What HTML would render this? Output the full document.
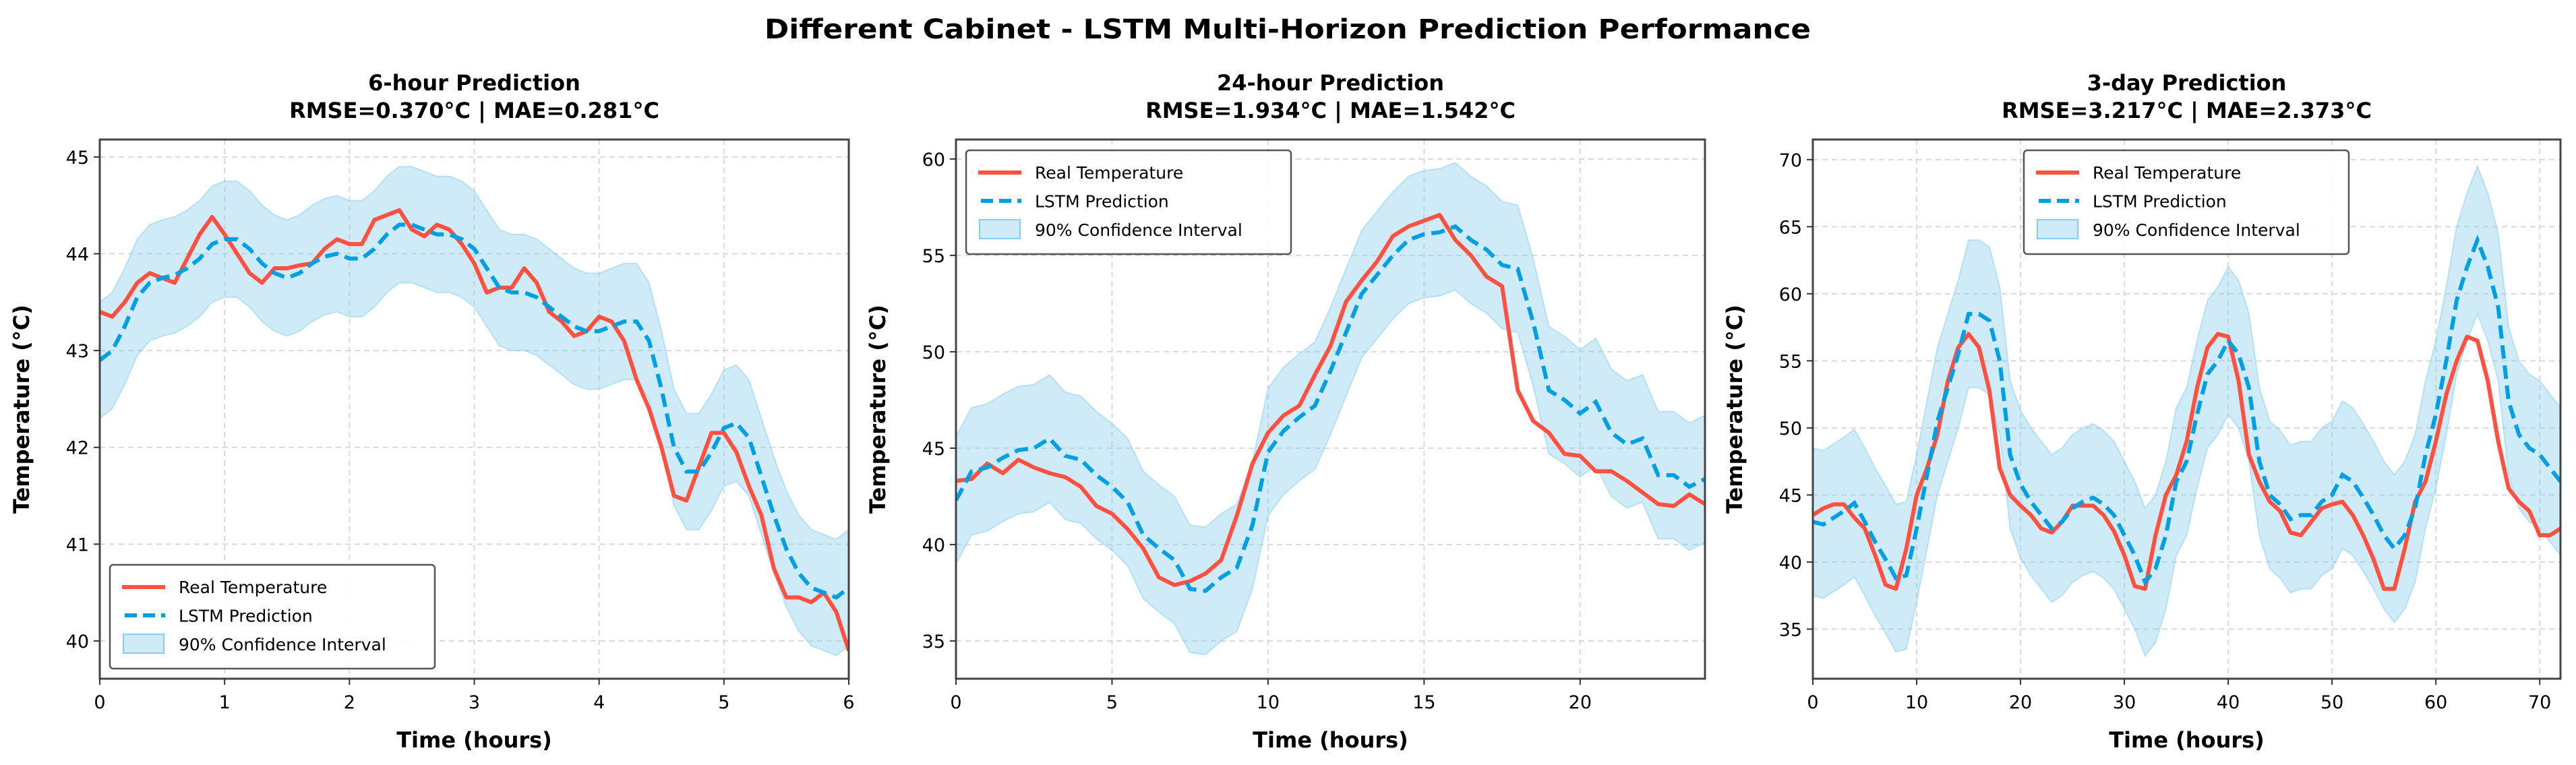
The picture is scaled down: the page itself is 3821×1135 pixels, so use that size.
<!DOCTYPE html>
<html><head><meta charset="utf-8"><title>LSTM Multi-Horizon Prediction</title>
<style>
html,body{margin:0;padding:0;background:#fff;}
svg{display:block;font-family:"DejaVu Sans","Liberation Sans",sans-serif;}
</style></head>
<body>
<svg id="fig" width="3821" height="1135" viewBox="0 0 3821 1135" xmlns="http://www.w3.org/2000/svg">
<text x="1910" y="57" text-anchor="middle" font-size="40" font-weight="bold" textLength="1552" lengthAdjust="spacingAndGlyphs">Different Cabinet - LSTM Multi-Horizon Prediction Performance</text>
</svg>
<script>
// Panel 1: 6-hour (step 0.1 h)
const p1Real = [43.4,43.35,43.5,43.7,43.8,43.75,43.7,43.95,44.2,44.38,44.2,44.0,43.8,43.7,43.85,43.85,43.88,43.9,44.05,44.15,44.1,44.1,44.35,44.4,44.45,44.25,44.18,44.3,44.25,44.1,43.9,43.6,43.65,43.65,43.85,43.7,43.4,43.3,43.15,43.2,43.35,43.3,43.1,42.7,42.4,42.0,41.5,41.45,41.8,42.15,42.15,41.95,41.6,41.3,40.75,40.45,40.45,40.4,40.5,40.3,39.9];
const p1Pred = [42.9,43.0,43.25,43.55,43.7,43.75,43.78,43.85,43.95,44.1,44.15,44.15,44.05,43.9,43.8,43.75,43.8,43.9,43.97,44.0,43.95,43.95,44.05,44.2,44.3,44.3,44.25,44.2,44.2,44.15,44.05,43.85,43.65,43.6,43.6,43.55,43.45,43.35,43.25,43.2,43.2,43.25,43.3,43.3,43.1,42.6,42.0,41.75,41.75,41.95,42.2,42.25,42.1,41.7,41.3,40.95,40.7,40.55,40.5,40.45,40.55];
const p1Ci = 0.6;
const p1XTicks = [0,1,2,3,4,5,6];
const p1YTicks = [40,41,42,43,44,45];
// Panel 2: 24-hour (step 0.5 h)
const p2Real = [43.3,43.4,44.2,43.7,44.4,44.0,43.7,43.5,43.0,42.0,41.6,40.8,39.8,38.3,37.9,38.1,38.5,39.2,41.5,44.2,45.8,46.7,47.2,48.8,50.3,52.6,53.7,54.7,56.0,56.5,56.8,57.1,55.8,55.0,53.9,53.4,48.0,46.4,45.8,44.7,44.6,43.8,43.8,43.3,42.7,42.1,42.0,42.6,42.1];
const p2Pred = [42.3,43.8,44.0,44.5,44.9,45.0,45.5,44.6,44.4,43.6,43.0,42.2,40.5,39.8,39.2,37.7,37.6,38.3,38.8,41.0,44.8,45.9,46.6,47.2,49.0,51.0,53.0,54.0,55.0,55.8,56.1,56.2,56.5,55.8,55.3,54.5,54.3,51.5,48.0,47.5,46.8,47.4,45.8,45.2,45.5,43.6,43.6,43.0,43.4];
const p2Ci = 3.3;
const p2XTicks = [0,5,10,15,20];
const p2YTicks = [35,40,45,50,55,60];
// Panel 3: 3-day (step 1 h)
const p3Real = [43.5,44.0,44.3,44.3,43.3,42.5,40.5,38.3,38.0,41.0,45.0,47.0,49.5,53.5,56.0,57.0,56.0,52.8,47.0,45.0,44.2,43.5,42.5,42.2,43.0,44.2,44.2,44.2,43.5,42.3,40.5,38.2,38.0,42.0,45.0,46.5,49.0,53.0,56.0,57.0,56.8,53.5,48.0,46.0,44.5,43.8,42.2,42.0,43.0,44.0,44.3,44.5,43.5,42.0,40.2,38.0,38.0,41.0,44.5,46.0,49.0,52.5,55.0,56.8,56.5,53.5,49.0,45.5,44.5,43.8,42.0,42.0,42.5];
const p3Pred = [43.0,42.8,43.3,43.8,44.4,43.0,41.5,40.2,38.8,39.0,42.5,46.5,50.5,53.0,55.5,58.5,58.5,58.0,55.0,48.0,45.8,44.5,43.5,42.5,43.0,44.0,44.5,44.8,44.3,43.5,42.0,40.5,38.5,39.5,42.0,46.0,47.5,51.0,54.0,55.0,56.5,55.5,53.0,47.5,45.0,44.3,43.2,43.5,43.5,44.5,45.0,46.5,46.0,44.8,43.5,42.0,41.0,42.0,44.0,48.0,51.0,55.0,59.5,62.0,64.0,62.0,59.0,52.0,49.5,48.5,48.0,47.0,46.0];
const p3Ci = 5.5;
const p3XTicks = [0,10,20,30,40,50,60,70];
const p3YTicks = [35,40,45,50,55,60,65,70];

const NS = "http://www.w3.org/2000/svg";
const svg = document.getElementById('fig');
function el(tag, attrs, parent){ const e=document.createElementNS(NS,tag); for(const k in attrs) e.setAttribute(k,attrs[k]); (parent||svg).appendChild(e); return e; }

function panel(cfg){
  const g = el('g',{});
  
  
  const L=cfg.L,R=cfg.R,T=207,B=1007;
  const sx = v => L + (v-cfg.x0)/(cfg.x1-cfg.x0)*(R-L);
  const sy = v => B - (v-cfg.y0)/(cfg.y1-cfg.y0)*(B-T);
  const n = cfg.real.length;
  const tx = i => cfg.x1*i/(n-1);
  // grid
  cfg.xt.forEach(v=>{ const l=el('line',{x1:sx(v),x2:sx(v),y1:T,y2:B,stroke:'#d9d9d9','stroke-width':2,'stroke-dasharray':'8,6'},g);
      });
  cfg.yt.forEach(v=>{ const l=el('line',{x1:L,x2:R,y1:sy(v),y2:sy(v),stroke:'#d9d9d9','stroke-width':2,'stroke-dasharray':'8,6'},g);
      });
  // clip
  const cp = el('clipPath',{id:cfg.id+'-clip'},g); el('rect',{x:L,y:T,width:R-L,height:B-T},cp);
  const cg = el('g',{'clip-path':'url(#'+cfg.id+'-clip)'},g);
  // band
  let up=[],lo=[];
  for(let i=0;i<n;i++){ up.push(sx(tx(i))+','+sy(cfg.pred[i]+cfg.ci)); lo.unshift(sx(tx(i))+','+sy(cfg.pred[i]-cfg.ci)); }
  const band = el('polygon',{points:up.concat(lo).join(' '),fill:'#87ceeb','fill-opacity':0.4,stroke:'#87ceeb','stroke-opacity':0.5,'stroke-width':2},cg);
   
  const rp=[],pp=[];
  for(let i=0;i<n;i++){ rp.push(sx(tx(i))+','+sy(cfg.real[i])); pp.push(sx(tx(i))+','+sy(cfg.pred[i])); }
  const rl = el('polyline',{points:rp.join(' '),fill:'none',stroke:'#ff5040','stroke-width':6,'stroke-linejoin':'round'},cg);
   
  const pl = el('polyline',{points:pp.join(' '),fill:'none',stroke:'#009fe3','stroke-width':6,'stroke-dasharray':'20,10'},cg);
   
  // frame
  const fr = el('rect',{x:L,y:T,width:R-L,height:B-T,fill:'none',stroke:'#444','stroke-width':3},g);
   
  // ticks
  cfg.xt.forEach(v=>{ el('line',{x1:sx(v),x2:sx(v),y1:B,y2:B+9,stroke:'#333','stroke-width':2},g);
    const t=el('text',{x:sx(v),y:B+44,'text-anchor':'middle','font-size':27},g); t.textContent=v;
      });
  cfg.yt.forEach(v=>{ el('line',{x1:L-9,x2:L,y1:sy(v),y2:sy(v),stroke:'#333','stroke-width':2},g);
    const t=el('text',{x:L-16,y:sy(v)+10,'text-anchor':'end','font-size':27},g); t.textContent=v;
      });
  const xl=el('text',{x:(L+R)/2,y:1109,'text-anchor':'middle','font-size':32,'font-weight':'bold'},g); xl.textContent='Time (hours)';
   
  const yx=L-105;
  const yl=el('text',{x:yx,y:(T+B)/2,'text-anchor':'middle','font-size':32,'font-weight':'bold',transform:'rotate(-90 '+yx+' '+((T+B)/2)+')'},g); yl.textContent='Temperature (°C)';
   
  const t1=el('text',{x:(L+R)/2,y:134,'text-anchor':'middle','font-size':32,'font-weight':'bold'},g); t1.textContent=cfg.title;
   
  const t2=el('text',{x:(L+R)/2,y:175,'text-anchor':'middle','font-size':32,'font-weight':'bold'},g); t2.textContent=cfg.metrics;
   
  // legend
  const lx=cfg.lx, ly=cfg.ly;
  const lg=el('g',{},g);
   
  el('rect',{x:lx,y:ly,width:482,height:154,rx:5,fill:'#fff','fill-opacity':0.9,stroke:'#555','stroke-width':2.5},lg);
  el('line',{x1:lx+18,x2:lx+82,y1:ly+33,y2:ly+33,stroke:'#ff5040','stroke-width':6},lg);
  el('line',{x1:lx+22,x2:lx+82,y1:ly+75,y2:ly+75,stroke:'#009fe3','stroke-width':6,'stroke-dasharray':'18,9'},lg);
  el('rect',{x:lx+20,y:ly+103,width:60,height:28,fill:'#87ceeb','fill-opacity':0.4,stroke:'#87ceeb','stroke-width':2},lg);
  const names=['Real Temperature','LSTM Prediction','90% Confidence Interval'];
  names.forEach((s,i)=>{ const t=el('text',{x:lx+102,y:ly+42+i*42.5,'font-size':25},lg); t.textContent=s;
      });
}

panel({id:'panel-6h',L:148,R:1259,x0:0,x1:6,y0:39.61,y1:45.18,real:p1Real,pred:p1Pred,ci:p1Ci,xt:p1XTicks,yt:p1YTicks,
  title:'6-hour Prediction',metrics:'RMSE=0.370°C | MAE=0.281°C',lx:163,ly:838});
panel({id:'panel-24h',L:1418,R:2529,x0:0,x1:24,y0:33.04,y1:61.01,real:p2Real,pred:p2Pred,ci:p2Ci,xt:p2XTicks,yt:p2YTicks,
  title:'24-hour Prediction',metrics:'RMSE=1.934°C | MAE=1.542°C',lx:1433,ly:223});
panel({id:'panel-3d',L:2689,R:3798,x0:0,x1:72,y0:31.3,y1:71.5,real:p3Real,pred:p3Pred,ci:p3Ci,xt:p3XTicks,yt:p3YTicks,
  title:'3-day Prediction',metrics:'RMSE=3.217°C | MAE=2.373°C',lx:3002,ly:223});
</script>
</body></html>
